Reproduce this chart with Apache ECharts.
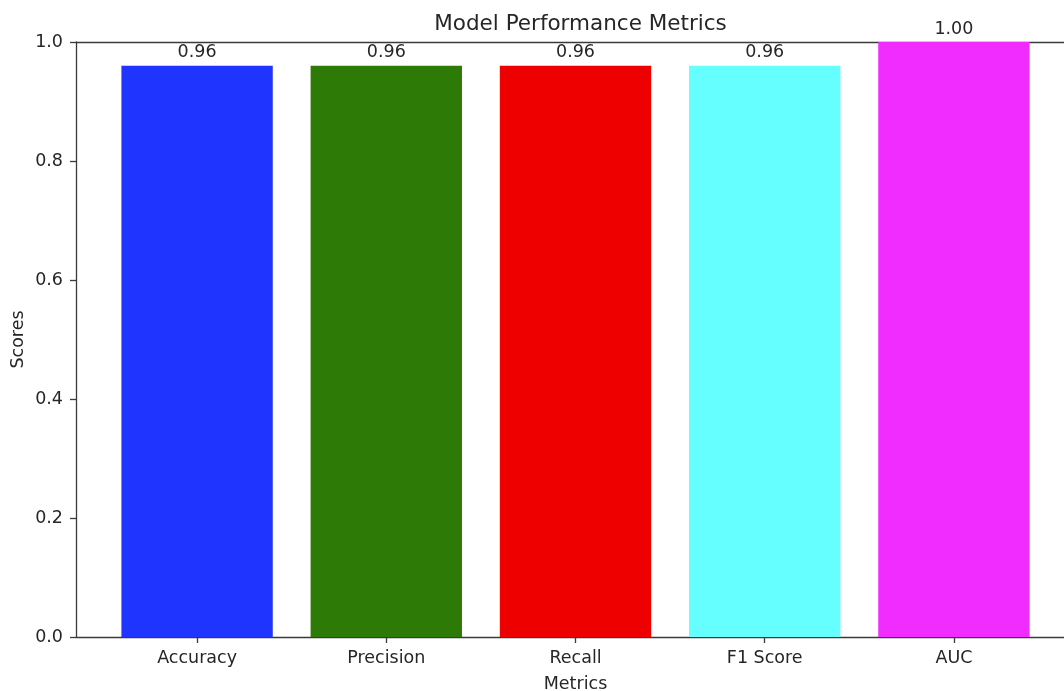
<!DOCTYPE html>
<html>
<head>
<meta charset="utf-8">
<script src="https://cdn.jsdelivr.net/npm/echarts@6/dist/echarts.min.js"></script>
<style>
  html, body { margin: 0; padding: 0; background: #fff; }
  #chart { width: 1064px; height: 691px; }
</style>
</head>
<body>
<div id="chart"></div>
<script>
// Metric names and their scores
const categories = ['Accuracy', 'Precision', 'Recall', 'F1 Score', 'AUC'];
const scores = [0.96, 0.96, 0.96, 0.96, 1.00];
const barColors = ['#1f35ff', '#2d7a06', '#ee0000', '#66ffff', '#f02cff'];
const yTicks = [0, 0.2, 0.4, 0.6, 0.8, 1.0];

const FONT = 'DejaVu Sans';
const TEXT = '#262626';
const SPINE = '#3a3a3a';
const FS = 17.5;

// Plot box (the right edge runs past the canvas)
const plotLeft = 76, plotTop = 42, plotWidth = 999, plotHeight = 595;
const xMin = -0.64, xMax = 4.64;
const barWidthPx = 0.8 * plotWidth / (xMax - xMin);

const positions = categories.map((_, i) => i);

const chart = echarts.init(document.getElementById('chart'), null, { renderer: 'canvas' });

chart.setOption({
  backgroundColor: '#ffffff',
  animation: false,
  title: {
    text: 'Model Performance Metrics',
    left: plotLeft + plotWidth / 2,
    textAlign: 'center',
    top: 8,
    textStyle: { fontFamily: FONT, fontSize: 21.5, fontWeight: 'normal', color: TEXT }
  },
  grid: {
    left: plotLeft, top: plotTop, width: plotWidth, height: plotHeight,
    containLabel: false, outerBoundsMode: 'none'
  },
  xAxis: [
    {
      type: 'value',
      min: xMin,
      max: xMax,
      name: 'Metrics',
      nameLocation: 'middle',
      nameGap: 38,
      nameMoveOverlap: false,
      nameTextStyle: { fontFamily: FONT, fontSize: FS, color: TEXT },
      axisLine: { show: true, onZero: false, lineStyle: { color: SPINE, width: 1.3 } },
      axisTick: { show: true, customValues: positions, length: 6, lineStyle: { color: SPINE, width: 1.3 } },
      axisLabel: {
        show: true,
        customValues: positions,
        margin: 12,
        fontFamily: FONT, fontSize: FS, color: TEXT,
        formatter: v => categories[Math.round(v)]
      },
      splitLine: { show: false }
    },
    {
      type: 'value',
      position: 'top',
      min: xMin,
      max: xMax,
      axisLine: { show: true, onZero: false, lineStyle: { color: SPINE, width: 1.3 } },
      axisTick: { show: false },
      axisLabel: { show: false },
      splitLine: { show: false }
    }
  ],
  yAxis: {
    type: 'value',
    min: 0,
    max: 1,
    interval: 0.2,
    name: 'Scores',
    nameLocation: 'middle',
    nameRotate: 90,
    nameGap: 49,
    nameMoveOverlap: false,
    nameTextStyle: { fontFamily: FONT, fontSize: FS, color: TEXT },
    axisLine: { show: true, onZero: false, lineStyle: { color: SPINE, width: 1.3 } },
    axisTick: { show: true, length: 6, lineStyle: { color: SPINE, width: 1.3 } },
    axisLabel: {
      margin: 13,
      fontFamily: FONT, fontSize: FS, color: TEXT,
      customValues: yTicks,
      formatter: v => v.toFixed(1)
    },
    splitLine: { show: false }
  },
  series: [{
    type: 'bar',
    xAxisIndex: 0,
    barWidth: barWidthPx,
    data: scores.map((s, i) => ({ value: [i, s], itemStyle: { color: barColors[i] } })),
    label: {
      show: true,
      position: 'top',
      distance: 4,
      fontFamily: FONT, fontSize: FS, color: TEXT,
      formatter: p => p.value[1].toFixed(2)
    }
  }]
});
</script>
</body>
</html>
